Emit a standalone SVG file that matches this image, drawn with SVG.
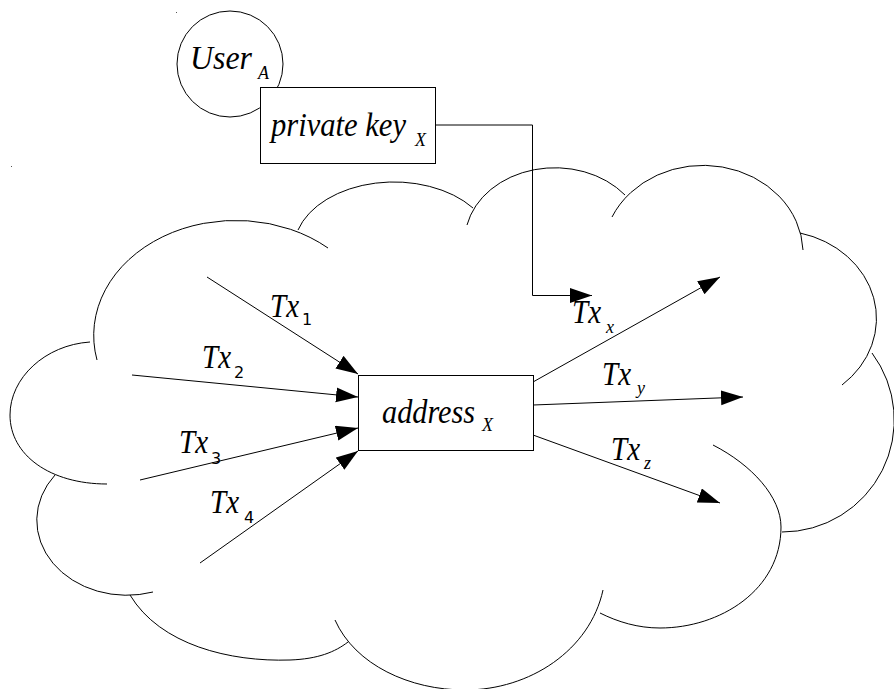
<svg xmlns="http://www.w3.org/2000/svg" width="894" height="689" viewBox="0 0 894 689">
  <style>
    .ln { fill: none; stroke: #000; stroke-width: 1; }
    .box { fill: #fff; stroke: #000; stroke-width: 1; }
    .t { font-family: "Liberation Serif", "Times New Roman", serif; font-style: italic; font-size: 33px; fill: #000; }
    .s { font-family: "Liberation Serif", "Times New Roman", serif; font-style: italic; font-size: 18px; }
    .n { font-family: "DejaVu Sans", "Liberation Sans", sans-serif; font-style: normal; font-size: 16px; }
  </style>
  <defs>
    <marker id="arr" markerUnits="userSpaceOnUse" markerWidth="23" markerHeight="16" refX="22" refY="7.5" orient="auto">
      <path d="M0,0 L22,7.5 L0,15 Z" fill="#000"/>
    </marker>
  </defs>
  <rect width="894" height="689" fill="#fff"/>

  <g id="cloud" class="ln">
    <path d="M97,360 A142,115 0 0 1 328,248"/>
    <path d="M298,230 A100,67 0 0 1 473,208"/>
    <path d="M467,225 A90,73 0 0 1 625,195"/>
    <path d="M612,217 A100,88 0 0 1 803,250"/>
    <path d="M800,233 A100,88 0 0 1 842,385"/>
    <path d="M872,353 A112,112 0 0 1 782,532"/>
    <path d="M713,445 C752,465 781,497 781,527 C781,590 720,628 660,628 C638,628 618,622 600,613"/>
    <path d="M335,620 C355,665 410,690 465,690 C530,690 590,650 603,590"/>
    <path d="M130,595 C160,645 230,662 290,660 C318,659 335,652 348,642"/>
    <path d="M55,475 A90,75 0 0 0 153,592"/>
    <path d="M90,342 C45,345 10,378 10,415 C10,455 50,484 107,484"/>
  </g>

  <g id="specks" fill="#555">
    <rect x="176" y="12" width="1" height="1"/>
    <rect x="11" y="166" width="1" height="1"/>
  </g>

  <g id="userA">
    <circle class="box" cx="230" cy="64" r="53"/>
    <text class="t" x="190" y="69"><tspan textLength="62" lengthAdjust="spacingAndGlyphs">User</tspan><tspan class="s" x="258" y="79">A</tspan></text>
  </g>

  <g id="privateKey">
    <rect class="box" x="260.5" y="87.5" width="175" height="76"/>
    <text class="t" x="271" y="136"><tspan textLength="135" lengthAdjust="spacingAndGlyphs">private key</tspan><tspan class="s" x="415" y="146">X</tspan></text>
  </g>

  <g id="address">
    <rect class="box" x="358.5" y="375.5" width="175" height="75"/>
    <text class="t" x="382" y="423"><tspan textLength="93" lengthAdjust="spacingAndGlyphs">address</tspan><tspan class="s" x="482" y="431">X</tspan></text>
  </g>

  <g id="connectors" class="ln" marker-end="url(#arr)">
    <polyline points="435,125 532.5,125 532.5,295.5 592,295.5"/>
    <line x1="207" y1="277" x2="358" y2="374"/>
    <line x1="132" y1="375" x2="358" y2="397"/>
    <line x1="140" y1="480" x2="358" y2="428"/>
    <line x1="200" y1="563" x2="358" y2="451"/>
    <line x1="533" y1="382" x2="720" y2="277"/>
    <line x1="533" y1="405" x2="743" y2="397"/>
    <line x1="533" y1="435" x2="720" y2="503"/>
  </g>

  <g id="labels">
    <text class="t" x="270" y="317"><tspan textLength="29" lengthAdjust="spacingAndGlyphs">Tx</tspan><tspan class="n" x="302" y="325">1</tspan></text>
    <text class="t" x="202" y="368"><tspan textLength="29" lengthAdjust="spacingAndGlyphs">Tx</tspan><tspan class="n" x="234" y="378">2</tspan></text>
    <text class="t" x="179" y="453"><tspan textLength="29" lengthAdjust="spacingAndGlyphs">Tx</tspan><tspan class="n" x="211" y="464">3</tspan></text>
    <text class="t" x="210" y="513"><tspan textLength="29" lengthAdjust="spacingAndGlyphs">Tx</tspan><tspan class="n" x="244" y="523">4</tspan></text>
    <text class="t" x="572" y="323"><tspan textLength="29" lengthAdjust="spacingAndGlyphs">Tx</tspan><tspan class="s" x="606" y="333">x</tspan></text>
    <text class="t" x="602" y="385"><tspan textLength="29" lengthAdjust="spacingAndGlyphs">Tx</tspan><tspan class="s" x="637" y="394">y</tspan></text>
    <text class="t" x="611" y="460"><tspan textLength="29" lengthAdjust="spacingAndGlyphs">Tx</tspan><tspan class="s" x="644" y="469">z</tspan></text>
  </g>
</svg>
